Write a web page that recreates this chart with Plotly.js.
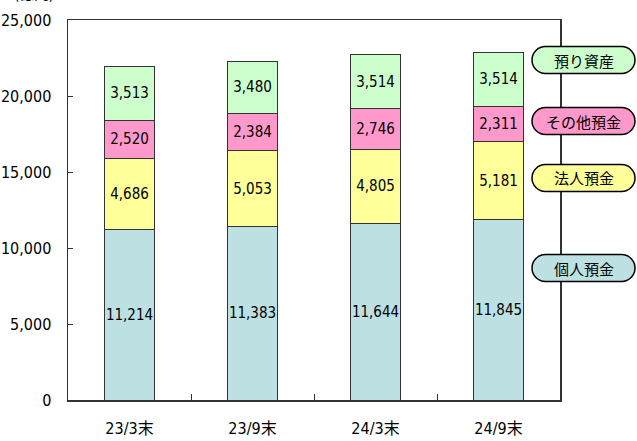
<!DOCTYPE html>
<html>
<head>
<meta charset="utf-8">
<script src="https://cdn.plot.ly/plotly-3.0.1.min.js"></script>
<style>html,body{margin:0;padding:0;background:#fff;}#chart{width:637px;height:441px;}</style>
</head>
<body>
<div id="chart"></div>
<script>
// Data
const categories = ["23/3末", "23/9末", "24/3末", "24/9末"];
const seriesNames = ["個人預金", "法人預金", "その他預金", "預り資産"];
const kojin   = [11214, 11383, 11644, 11845];
const hojin   = [4686, 5053, 4805, 5181];
const sonota  = [2520, 2384, 2746, 2311];
const azukari = [3513, 3480, 3514, 3514];
const yTickVals = [0, 5000, 10000, 15000, 20000, 25000];
const yTickText = ["0", "5,000", "10,000", "15,000", "20,000", "25,000"];
const unitLabel = "(億円)";

const colors = ["#BDE0E3", "#FFFF99", "#FF99CC", "#CCFFCC"];
const numFont = "'Liberation Sans Narrow', 'Arial Narrow', 'DejaVu Sans Condensed', sans-serif";
const cjkFont = "'Noto Sans CJK JP', sans-serif";
const fmt = v => v.toLocaleString("en-US");

const allSeries = [kojin, hojin, sonota, azukari];
const traces = allSeries.map((vals, i) => ({
  type: "bar",
  name: seriesNames[i],
  x: categories,
  y: vals,
  text: vals.map(fmt),
  textposition: "inside",
  insidetextanchor: "middle",
  textangle: 0,
  constraintext: "none",
  textfont: {family: numFont, size: 15, color: "#000"},
  hoverinfo: "none",
  marker: {color: colors[i], line: {color: "#333", width: 1}},
  width: 0.4
}));

// plot area in pixels
const L = 68, R = 560, T = 20, B = 400;
const px = x => (x - L) / (R - L);
const py = y => (B - y) / (B - T);

function pillPath(x0, y0, x1, y1) {
  const r = (y1 - y0) / 2;
  const k = 0.5523 * r;
  let d = `M ${px(x0 + r)} ${py(y0)} L ${px(x1 - r)} ${py(y0)} `;
  d += `C ${px(x1 - r + k)} ${py(y0)} ${px(x1)} ${py(y0 + r - k)} ${px(x1)} ${py(y0 + r)} `;
  d += `C ${px(x1)} ${py(y0 + r + k)} ${px(x1 - r + k)} ${py(y1)} ${px(x1 - r)} ${py(y1)} `;
  d += `L ${px(x0 + r)} ${py(y1)} `;
  d += `C ${px(x0 + r - k)} ${py(y1)} ${px(x0)} ${py(y0 + r + k)} ${px(x0)} ${py(y0 + r)} `;
  d += `C ${px(x0)} ${py(y0 + r - k)} ${px(x0 + r - k)} ${py(y0)} ${px(x0 + r)} ${py(y0)} Z`;
  return d;
}

// legend pills (top to bottom): 預り資産, その他預金, 法人預金, 個人預金
const pillCenters = [60, 121, 178, 268];
const pillOrder = [3, 2, 1, 0];
const shapes = [];
const annotations = [];
pillOrder.forEach((si, j) => {
  const cy = pillCenters[j];
  shapes.push({
    type: "path", xref: "paper", yref: "paper",
    path: pillPath(532, cy - 13.5, 635, cy + 13.5),
    fillcolor: colors[si], line: {color: "#000", width: 1.5}
  });
  annotations.push({
    xref: "paper", yref: "paper", x: px(583.5), y: py(cy),
    text: seriesNames[si], showarrow: false,
    font: {family: cjkFont, size: 15, color: "#000"},
    xanchor: "center", yanchor: "middle"
  });
});
annotations.push({
  xref: "paper", yref: "paper", x: px(34), y: py(-7),
  text: unitLabel, showarrow: false,
  font: {family: cjkFont, size: 15, color: "#000"},
  xanchor: "center", yanchor: "middle"
});

const layout = {
  width: 637, height: 441,
  margin: {l: L, r: 637 - R, t: T, b: 441 - B, pad: 0},
  paper_bgcolor: "#fff", plot_bgcolor: "#fff",
  barmode: "stack",
  showlegend: false,
  xaxis: {
    type: "category",
    showline: true, linecolor: "#333", linewidth: 1.5, mirror: true,
    ticks: "inside", tickson: "boundaries", ticklen: 6, tickcolor: "#333", tickwidth: 1,
    showgrid: false, zeroline: false,
    tickfont: {family: numFont + ", " + cjkFont, size: 16, color: "#000"},
    ticklabelstandoff: 13
  },
  yaxis: {
    range: [0, 25000],
    tickvals: yTickVals, ticktext: yTickText,
    showline: true, linecolor: "#333", linewidth: 1.5, mirror: true,
    ticks: "inside", ticklen: 5, tickcolor: "#333", tickwidth: 1,
    showgrid: false, zeroline: false,
    tickfont: {family: numFont, size: 16, color: "#000"},
    ticklabelstandoff: 12
  },
  shapes: shapes,
  annotations: annotations
};

Plotly.newPlot("chart", traces, layout, {displayModeBar: false, staticPlot: true});
</script>
</body>
</html>
